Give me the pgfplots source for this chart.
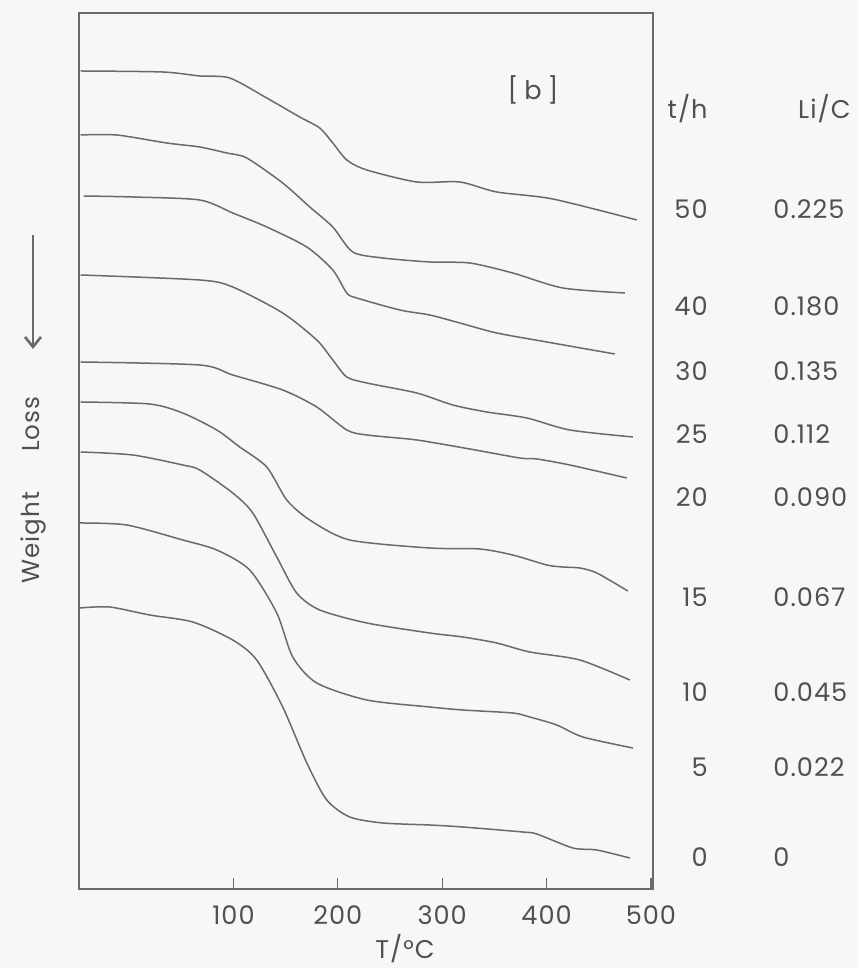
\documentclass[border=0pt]{standalone}
\usepackage{fontspec}
\setmainfont{Poppins}[LetterSpace=4]
\usepackage{pgfplots}
\pgfplotsset{compat=1.18}
\usetikzlibrary{arrows.meta}
\definecolor{ink}{HTML}{505050}
\definecolor{trace}{HTML}{6A6A6A}
\definecolor{paper}{HTML}{F7F7F5}

\begin{document}
\begin{tikzpicture}[font=\fontsize{12.8}{14}\selectfont, text=ink]
\fill[paper] (-39.5pt,-39.5pt) rectangle (389.5pt,444.5pt);
\begin{axis}[
  scale only axis, width=287pt, height=438pt,
  at={(0,0)}, anchor=south west,
  xmin=-48, xmax=502, ymin=0, ymax=876,
  axis line style={draw=trace, line width=0.65pt},
  xtick={100,200,300,400,500}, ytick=\empty,
  xtick pos=left, tick align=inside,
  major tick length=5.5pt,
  tick style={draw=trace, line width=0.65pt},
  /pgf/number format/assume math mode=true,
  xticklabel style={anchor=base, yshift=-18pt, font=\fontsize{12.8}{14}\selectfont, text=ink},
  tg/.style={draw=trace, line width=0.75pt, smooth, tension=0.45, mark=none},
]
% 50 h
\addplot[tg] coordinates {(-46.4,818) (32.2,817) (67.7,813) (96.4,811) (131.9,791) (163.5,772) (182.7,761) (195.2,746) (208.6,729) (227.8,719) (275.7,707) (316.9,707) (352.3,697) (406.0,690) (486.5,669)};
% 40 h
\addplot[tg] coordinates {(-46.4,754) (-11.9,754) (36.0,746) (67.7,742) (93.5,736) (112.7,731) (147.2,706) (173.1,682) (195.2,662) (214.3,637) (243.1,631) (288.1,627) (326.4,626) (367.6,616) (415.6,601) (475.0,596)};
% 30 h
\addplot[tg] coordinates {(-43.5,693) (3.5,692) (67.7,689) (99.3,676) (131.9,662) (170.3,642) (195.2,619) (208.6,596) (218.2,591) (259.4,579) (288.1,574) (316.9,566) (352.3,556) (400.2,547) (465.4,535)};
% 25 h
\addplot[tg] coordinates {(-46.4,614) (67.7,609) (99.3,602) (147.2,576) (179.8,549) (195.2,529) (208.6,512) (227.8,506) (275.7,496) (310.1,484) (342.7,477) (381.1,471) (422.3,459) (482.7,452)};
% 20 h
\addplot[tg] coordinates {(-46.4,527) (67.7,524) (99.3,514) (147.2,499) (179.8,482) (208.6,459) (227.8,454) (275.7,449) (326.4,440) (374.4,431) (390.7,430) (422.3,424) (476.9,411)};
% 15 h
\addplot[tg] coordinates {(-46.4,487) (19.7,485) (51.4,476) (84.0,459) (106.0,442) (131.9,422) (151.1,389) (173.1,369) (211.5,349) (288.1,341) (336.0,340) (367.6,334) (400.2,324) (415.6,322) (431.9,321) (448.2,316) (477.9,298)};
% 10 h
\addplot[tg] coordinates {(-46.4,437) (3.5,434) (51.4,424) (67.7,419) (99.3,396) (118.5,376) (141.5,332) (160.6,296) (182.7,279) (227.8,266) (288.1,256) (319.7,252) (352.3,246) (384.0,237) (431.9,229) (479.8,209)};
% 5 h
\addplot[tg] coordinates {(-47.3,366) (-2.3,364) (51.4,349) (84.0,339) (115.6,319) (141.5,276) (156.8,232) (179.8,206) (227.8,189) (288.1,182) (319.7,179) (367.6,176) (384.0,172) (409.8,164) (434.8,152) (482.7,141)};
% 0 h
\addplot[tg] coordinates {(-47.3,281) (-18.6,282) (19.7,274) (61.0,267) (99.3,249) (122.3,229) (147.2,182) (170.3,126) (189.4,89) (211.5,72) (243.1,66) (288.1,64) (319.7,62) (377.2,57) (390.7,55) (425.2,41) (448.2,39) (479.8,31)};
\end{axis}

\node at (227pt,399.5pt) {[\hspace{3pt}b\hspace{3pt}]};
\node[anchor=base east, inner sep=0pt] at (314.5pt,385pt) {t/h};
\node[anchor=base east, inner sep=0pt] at (386pt,385pt) {Li/C};
\foreach \t/\r/\y in {50/0.225/335, 40/0.180/286.5, 30/0.135/254, 25/0.112/222.5, 20/0.090/191, 15/0.067/141, 10/0.045/93.5, 5/0.022/56, 0/0/11}{
  \node[anchor=base east, inner sep=0pt] at (314.5pt,\y pt) {\t};
  \node[anchor=base west, inner sep=0pt] at (347pt,\y pt) {\r};
}
\node[anchor=base, inner sep=0pt] at (163pt,-34.5pt) {T/°C};
\node[rotate=90, font=\fontsize{12.3}{14}\selectfont] at (-23pt,199.5pt) {Weight\hspace{20pt}Loss};
\draw[trace, line width=0.75pt, -{Straight Barb[length=5pt,width=8pt,line width=1.3pt]}] (-23pt,327pt) -- (-23pt,270pt);
\end{tikzpicture}
\end{document}
